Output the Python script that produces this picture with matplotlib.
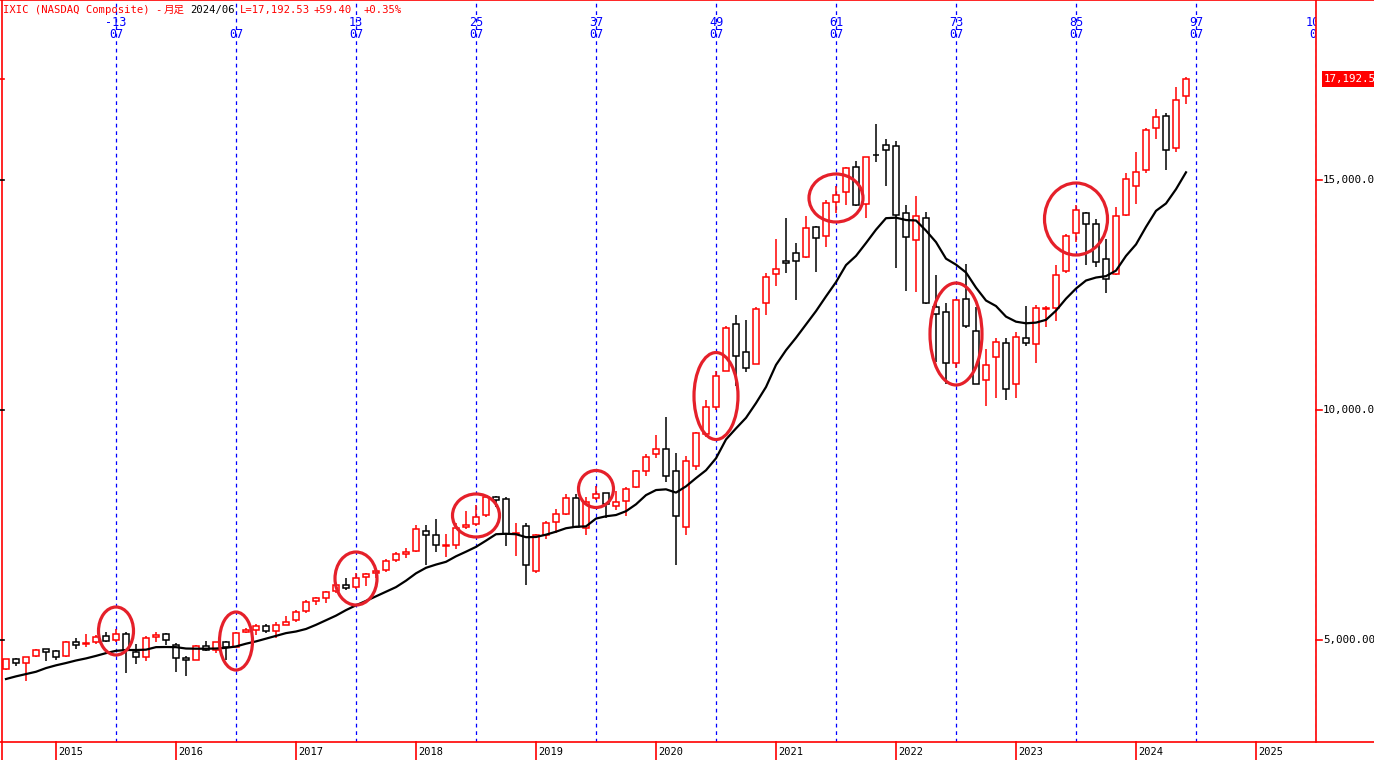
import matplotlib
matplotlib.use('Agg')
import matplotlib.pyplot as plt
from matplotlib.lines import Line2D
from matplotlib.patches import Ellipse, Rectangle
import pandas as pd

W, H = 1374, 760
RED = '#ff0000'
BLUE = '#0000ff'
CIRCLE_RED = '#e5202a'
MONO = ['DejaVu Sans Mono', 'Noto Sans CJK JP']

# monthly IXIC candles, 2014/08 .. 2024/06
months = pd.period_range('2014-08', '2024-06', freq='M')
opens = [
    4372, 4589, 4494, 4654, 4794,
    4760, 4643, 4966, 4912, 4952, 5081, 5001, 5133, 4735, 4632, 5072, 5124,
    4897, 4599, 4567, 4875, 4785, 4958, 4855, 5167, 5207, 5313, 5196, 5336,
    5425, 5621, 5855, 5917, 6060, 6206, 6160, 6368, 6455, 6520, 6740, 6880,
    6937, 7377, 7275, 7052, 7060, 7463, 7523, 7712, 8117, 8057, 7300, 7487,
    6506, 7292, 7571, 7742, 8093, 7442, 8092, 8188, 7906, 8018, 8329, 8685,
    9039, 9145, 8667, 7459, 8784, 9471, 10064, 10848, 11861, 11260, 11010, 12316,
    12958, 13232, 13406, 13330, 13984, 13790, 14525, 14743, 15287, 14471, 15548, 15760,
    15732, 14277, 13697, 14181, 12238, 12120, 11030, 12405, 11714, 10648, 11154, 11447,
    10563, 11573, 11442, 12187, 12210, 13025, 13850, 14284, 14053, 13288, 12967, 14231,
    14873, 15227, 16132, 16393, 15701, 16828,
]
highs = [
    4580, 4610, 4641, 4801, 4814,
    4777, 4987, 5042, 5120, 5111, 5164, 5231, 5176, 4903, 5086, 5176, 5156,
    4935, 4658, 4900, 4970, 4958, 4980, 5179, 5272, 5342, 5342, 5399, 5512,
    5663, 5867, 5928, 6075, 6221, 6342, 6460, 6459, 6500, 6766, 6915, 7004,
    7506, 7505, 7637, 7314, 7537, 7807, 7933, 8133, 8133, 8107, 7546, 7539,
    7300, 7581, 7846, 8176, 8165, 8107, 8340, 8202, 8243, 8326, 8705, 9052,
    9451, 9838, 9070, 9003, 9523, 10221, 10839, 11829, 12074, 11965, 12229, 12973,
    13728, 14175, 13620, 14211, 14000, 14573, 14864, 15288, 15403, 15504, 16212, 15901,
    15852, 14450, 14646, 14306, 12945, 12320, 12420, 13181, 12234, 11327, 11574, 11571,
    11692, 12270, 12281, 12270, 13157, 13829, 14446, 14309, 14156, 13715, 14423, 15150,
    15614, 16134, 16538, 16449, 17032, 17239,
]
lows = [
    4353, 4432, 4117, 4628, 4547,
    4563, 4637, 4810, 4842, 4910, 4959, 4947, 4292, 4487, 4542, 4950, 4900,
    4313, 4210, 4564, 4769, 4714, 4574, 4840, 5154, 5119, 5156, 5034, 5320,
    5395, 5592, 5769, 5805, 6030, 6081, 6111, 6177, 6354, 6489, 6691, 6779,
    6924, 6631, 6907, 6806, 6982, 7419, 7480, 7667, 7884, 7046, 6830, 6190,
    6457, 7187, 7332, 7721, 7442, 7292, 8039, 7662, 7836, 7700, 8312, 8560,
    8966, 8436, 6631, 7285, 8697, 9403, 10000, 10846, 10519, 10822, 10993, 12057,
    12699, 12985, 12397, 13300, 13003, 13553, 14283, 14450, 14440, 14182, 15394, 14860,
    13094, 12587, 12555, 12308, 11035, 10565, 10924, 11786, 10575, 10089, 10262, 10207,
    10265, 11386, 11019, 11797, 11926, 12974, 13663, 13161, 13116, 12544, 12942, 14224,
    14477, 15153, 15897, 15223, 15613, 16652,
]
closes = [
    4580, 4493, 4631, 4792, 4736,
    4635, 4964, 4901, 4941, 5070, 4987, 5128, 4777, 4620, 5054, 5109, 5007,
    4614, 4558, 4870, 4775, 4948, 4843, 5162, 5213, 5312, 5189, 5324, 5383,
    5615, 5825, 5912, 6048, 6199, 6140, 6348, 6429, 6496, 6728, 6874, 6903,
    7411, 7273, 7063, 7066, 7442, 7510, 7672, 8110, 8046, 7306, 7331, 6635,
    7282, 7533, 7729, 8095, 7453, 8006, 8175, 7963, 7999, 8292, 8665, 8973,
    9151, 8567, 7700, 8890, 9490, 10059, 10745, 11775, 11168, 10912, 12199, 12888,
    13070, 13192, 13247, 13962, 13749, 14504, 14673, 15259, 14449, 15498, 15538, 15645,
    14240, 13751, 14221, 12335, 12081, 11029, 12391, 11816, 10576, 10988, 11468, 10466,
    11585, 11456, 12222, 12227, 12935, 13788, 14346, 14035, 13219, 12851, 14226, 15011,
    15164, 16092, 16379, 15658, 16735, 17192,
]
# moving average line as drawn
ma_line = [
    4152, 4210, 4260, 4310, 4390,
    4450, 4500, 4555, 4600, 4655, 4715, 4765, 4783, 4783, 4790, 4845, 4848,
    4845, 4815, 4811, 4811, 4815, 4830, 4860, 4920, 4970, 5030, 5090, 5150,
    5185, 5240, 5330, 5430, 5530, 5650, 5755, 5850, 5950, 6050, 6150, 6290,
    6450, 6570, 6640, 6700, 6820, 6920, 7025, 7160, 7300, 7310, 7300, 7235,
    7240, 7290, 7355, 7430, 7463, 7470, 7640, 7690, 7717, 7800, 7950, 8150,
    8260, 8276, 8205, 8340, 8520, 8690, 8950, 9360, 9600, 9830, 10150, 10500,
    10980, 11300, 11570, 11860, 12150, 12470, 12780, 13150, 13350, 13630, 13920, 14170,
    14181, 14130, 14120, 13900, 13650, 13290, 13160, 12990, 12660, 12380, 12260, 12030,
    11920, 11885, 11900, 11960, 12160, 12420, 12640, 12815, 12880, 12910, 13030, 13350,
    13600, 13980, 14330, 14490, 14800, 15167,
]

year_labels = [str(y) for y in range(2015, 2026)]
july_counts = ['-13', '', '13', '25', '37', '49', '61', '73', '85', '97', '109']
price_ticks = [5000, 10000, 15000]
last_price = '17,192.53'

# red rings drawn round the July bars: (month, centre, width in months, height in points)
rings = [
    ('2015-07', 5196, 3.5, 1043),
    ('2016-07', 4978, 3.3, 1261),
    ('2017-07', 6337, 4.2, 1152),
    ('2018-07', 7707, 4.7, 935),
    ('2019-07', 8283, 3.5, 804),
    ('2020-07', 10304, 4.4, 1891),
    ('2021-07', 14609, 5.4, 1043),
    ('2022-07', 11652, 5.2, 2217),
    ('2023-07', 14152, 6.3, 1565),
]


def fx(px):
    return px / W


def fy(py):
    return 1 - py / H


def month_pos(label):
    return (pd.Period(label, freq='M') - months[0]).n


fig = plt.figure(figsize=(W / 100, H / 100), dpi=100)
ax = fig.add_axes([0, fy(742), fx(1316), 742 / H])
ax.set_xlim(-0.6, 131.0)
ax.set_ylim(2783, 18913)
ax.axis('off')

# July guide lines with the bar-count labels on top
july_idx = [(y - 2014) * 12 - 1 for y in range(2015, 2026)]
for k, xi in enumerate(july_idx):
    ax.axvline(xi, color=BLUE, lw=0.9, ls=(0, (3, 3)), zorder=1)
    t1 = ax.text(xi, 1 - 22 / 742, july_counts[k], transform=ax.get_xaxis_transform(),
                 ha='center', va='center', color=BLUE, fontsize=8.5, family=MONO)
    t2 = ax.text(xi, 1 - 34 / 742, '07', transform=ax.get_xaxis_transform(),
                 ha='center', va='center', color=BLUE, fontsize=8.5, family=MONO)
    for t in (t1, t2):
        t.set_clip_on(True)
        t.set_clip_box(ax.bbox)

# candles: hollow, red up / black down
body_w = 0.6
for i, (o, h, l, c) in enumerate(zip(opens, highs, lows, closes)):
    col = RED if c >= o else 'black'
    ax.vlines(i, l, h, color=col, lw=1.1, zorder=2)
    ax.add_patch(Rectangle((i - body_w / 2, min(o, c)), body_w, abs(c - o),
                           facecolor='white', edgecolor=col, lw=1.1, zorder=3))

ax.plot(range(len(ma_line)), ma_line, color='black', lw=1.6, zorder=4)

for m, cy, w, h in rings:
    ax.add_patch(Ellipse((month_pos(m), cy), w, h, fill=False,
                         edgecolor=CIRCLE_RED, lw=2.3, zorder=5))

# frame
frame = [
    ((0, 0), (W, 0)), ((0, 742), (W, 742)),
    ((1.5, 0), (1.5, 760)), ((1316, 0), (1316, 742)),
]
for (x0, y0), (x1, y1) in frame:
    fig.add_artist(Line2D([fx(x0), fx(x1)], [fy(y0), fy(y1)], color=RED, lw=1.2))

# year ticks along the bottom
for k, lab in enumerate(year_labels):
    xp = 6 + 10 * (5 + 12 * k)
    fig.add_artist(Line2D([fx(xp), fx(xp)], [fy(742), fy(760)], color=RED, lw=1.2))
    fig.text(fx(xp + 2), fy(752), lab, ha='left', va='center', fontsize=7.5,
             family=MONO, color='black')

# price scale on the right
to_px = lambda v: 870 - v * 230 / 5000
for v in price_ticks:
    yp = to_px(v)
    fig.add_artist(Line2D([fx(1316), fx(1322)], [fy(yp), fy(yp)], color=RED, lw=1.2))
    fig.add_artist(Line2D([fx(0), fx(4)], [fy(yp), fy(yp)], color='black', lw=1.2))
    fig.text(fx(1323), fy(yp), f'{v:,.2f}', ha='left', va='center', fontsize=7.8,
             family=MONO, color='black')

yp = to_px(closes[-1])
fig.add_artist(Rectangle((fx(1322), fy(yp + 8)), fx(60), 16 / H, transform=fig.transFigure,
                         facecolor=RED, edgecolor='none'))
fig.text(fx(1324), fy(yp), last_price, ha='left', va='center', fontsize=7.8,
         family=MONO, color='white')
fig.add_artist(Line2D([fx(0), fx(4)], [fy(yp), fy(yp)], color=RED, lw=1.2))

# header
header = [
    (3, 'IXIC (NASDAQ Composite) -', RED),
    (164, '月足', RED),
    (190, '2024/06', 'black'),
    (240, 'L=17,192.53', RED),
    (314, '+59.40', RED),
    (364, '+0.35%', RED),
]
for xp, s, col in header:
    fig.text(fx(xp), fy(10), s, ha='left', va='center', fontsize=7.6,
             family=MONO, color=col)

fig.savefig('out.png', dpi=100)
